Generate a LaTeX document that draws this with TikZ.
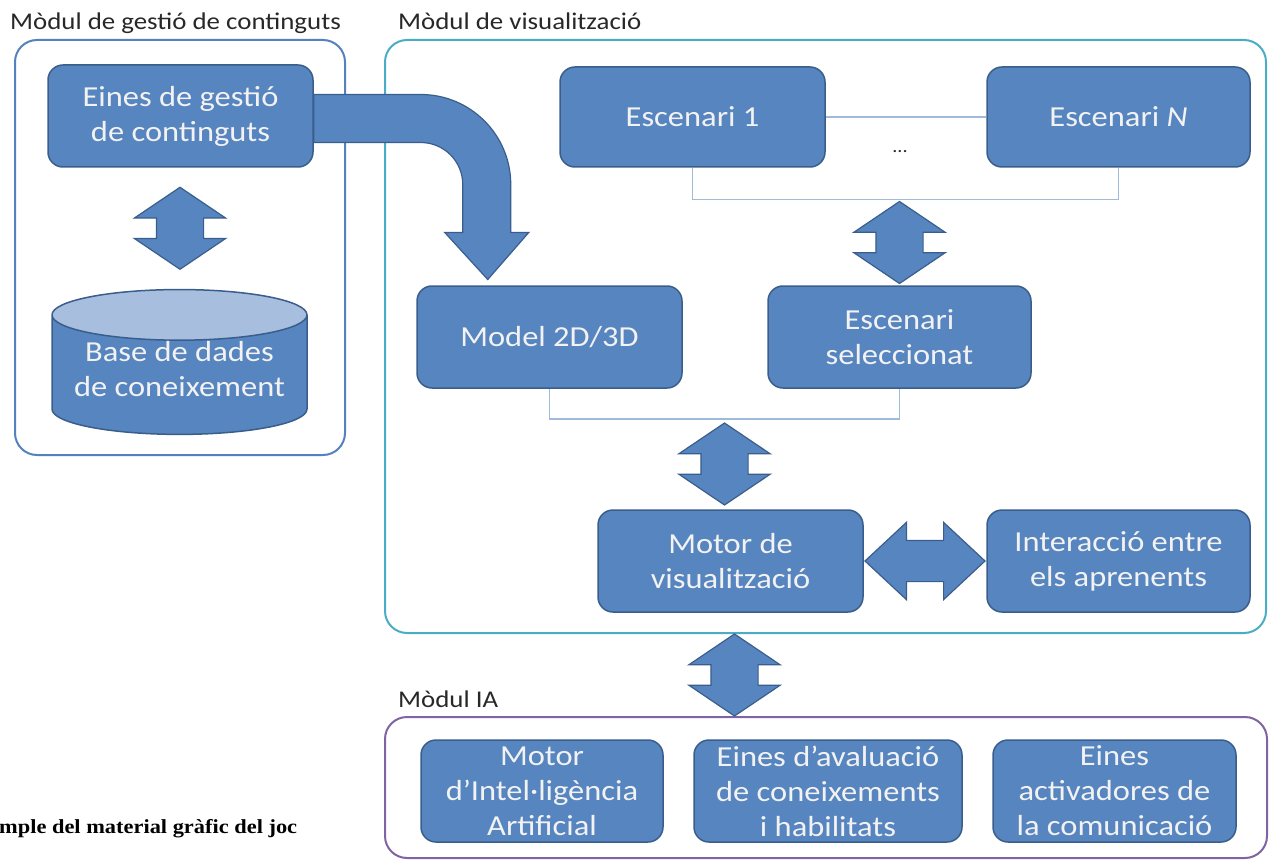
\documentclass[tikz,border=0pt]{standalone}
\usepackage{fontspec}
\setmainfont{Carlito}[FakeStretch=1.12]
\newfontfamily\captionfont{Liberation Serif}[FakeStretch=1.12]
\usetikzlibrary{positioning,calc,shapes.geometric,shapes.arrows}
\definecolor{BoxBlue}{RGB}{87,133,192}
\definecolor{BoxLine}{RGB}{58,94,140}
\definecolor{EndBlue}{RGB}{167,190,222}
\definecolor{GestLine}{RGB}{84,130,190}
\definecolor{VisLine}{RGB}{75,172,198}
\definecolor{IALine}{RGB}{128,100,162}
\definecolor{LinkBlue}{RGB}{160,186,220}
\definecolor{TitleGray}{RGB}{40,40,40}
\definecolor{BoxText}{RGB}{242,242,242}
\tikzset{boxes/.style={rounded corners=15pt, draw=BoxLine, fill=BoxBlue, line width=1.5pt, text=BoxText, align=center, inner sep=0pt, minimum height=102pt, font=\fontsize{29}{35}\selectfont}}
\tikzset{modules/.style={rounded corners=22pt, line width=2pt, inner sep=0pt}}
\tikzset{titles/.style={anchor=base west, inner sep=0pt, text=TitleGray, font=\fontsize{24}{28}\selectfont}}
\tikzset{links/.style={draw=LinkBlue, line width=1.5pt}}
\tikzset{dblarrow/.style={double arrow, draw=BoxLine, fill=BoxBlue, line width=1.2pt, inner xsep=0pt, inner ysep=23pt, double arrow head extend=22pt, double arrow tip angle=112, minimum height=82pt}}
\tikzset{bentarrow/.style={draw=BoxLine, fill=BoxBlue, line width=1.2pt}}

\begin{document}
\begin{tikzpicture}[x=1pt, y=-1pt]
    \useasboundingbox (0,0) rectangle (1269,861);
    % modules
    \node[modules, draw=GestLine, minimum width=330pt, minimum height=415pt] (gestmod) at (180,247.5) {};
    \node[modules, draw=VisLine, minimum width=881pt, minimum height=593pt] (vismod) at (825.5,336.5) {};
    \node[modules, draw=IALine, minimum width=882pt, minimum height=141pt] (iamod) at (826,787.5) {};
    \node[titles] (gesttitle) at (10,30) {Mòdul de gestió de continguts};
    \node[titles] (vistitle) at (398,30) {Mòdul de visualització};
    \node[titles] (iatitle) at (398,707) {Mòdul IA};
    % content management
    \node[boxes, minimum width=265pt] (gestio) at (180.5,116) {Eines de gestió\\de continguts};
    \node[cylinder, shape border rotate=90, aspect=0.24, draw=BoxLine, line width=1.5pt,
          cylinder uses custom fill, cylinder body fill=BoxBlue, cylinder end fill=EndBlue,
          minimum width=255pt, minimum height=131pt, inner sep=0pt, align=center, text depth=13pt,
          text=BoxText, font=\fontsize{29}{35}\selectfont] (kb) at (179.5,375) {Base de dades\\de coneixement};
    % visualization
    \node[boxes, minimum width=265pt, minimum height=100pt] (esc1) at (692.5,117) {Escenari 1};
    \node[boxes, minimum width=263pt, minimum height=100pt] (escN) at (1118.5,117) {Escenari \textit{N}};
    \node[text=TitleGray, font=\fontsize{18}{20}\selectfont] (dots) at (900,152) {...};
    \node[boxes, minimum width=265pt] (model) at (549.5,337) {Model 2D/3D};
    \node[boxes, minimum width=263pt] (escsel) at (899.5,337) {Escenari\\seleccionat};
    \node[boxes, minimum width=265pt] (motor) at (730.5,561) {Motor de\\visualització};
    \node[boxes, minimum width=263pt] (inter) at (1118.5,561) {Interacció entre\\els aprenents};
    % AI
    \node[boxes, minimum width=242pt] (motoria) at (542,791) {Motor\\d’Intel·ligència\\Artificial};
    \node[boxes, minimum width=268pt] (aval) at (828,791) {Eines d’avaluació\\de coneixements\\i habilitats};
    \node[boxes, minimum width=243pt] (activ) at (1114.5,791) {Eines\\activadores de\\la comunicació};
    \node[anchor=base west, inner sep=0pt, font=\captionfont\bfseries\fontsize{20}{24}\selectfont] (caption) at (-1,833) {mple del material gràfic del joc};
    % thin links
    \draw[links] (esc1.east) -- (escN.west);
    \draw[links] (esc1.south) -- ++(0,32) coordinate (b1) -| (escN.south);
    \draw[links] (model.south) -- ++(0,30) coordinate (b2) -| (escsel.south);
    \coordinate (b2m) at ($(b2)!0.5!(b2 -| escsel.south)$);
    % block arrows
    \draw[bentarrow] ($(gestio.east)+(0,-21.5)$) -- ++(107,0)
        .. controls +(49.7,0) and +(0,-49.7) .. ++(90,90)
        -- ++(0,48) -- ++(18,0) -- ++(-41,47) -- ++(-43,-47) -- ++(18,0) -- ++(0,-48)
        .. controls +(0,-23.2) and +(23.2,0) .. ++(-42,-42)
        -- ++(-107,0) -- cycle;
    \node[dblarrow, rotate=90] (kbarrow) at ($(gestio.south)!0.5!(kb.north)$) {};
    \node[dblarrow, rotate=90] (escarrow) at ($(b1 -| escsel.north)!0.5!(escsel.north)$) {};
    \node[dblarrow, rotate=90] (motorarrow) at ($(b2m)!0.5!(b2m |- motor.north)$) {};
    \node[dblarrow, inner ysep=20pt, double arrow head extend=18pt, double arrow tip angle=86,
          minimum height=120pt] (interarrow) at ($(motor.east)!0.5!(inter.west)$) {};
    \node[dblarrow, rotate=90] (iaarrow) at ($(vismod.south -| motor.south)!0.5!(iamod.north -| motor.south)+(4,0)$) {};
\end{tikzpicture}
\end{document}
